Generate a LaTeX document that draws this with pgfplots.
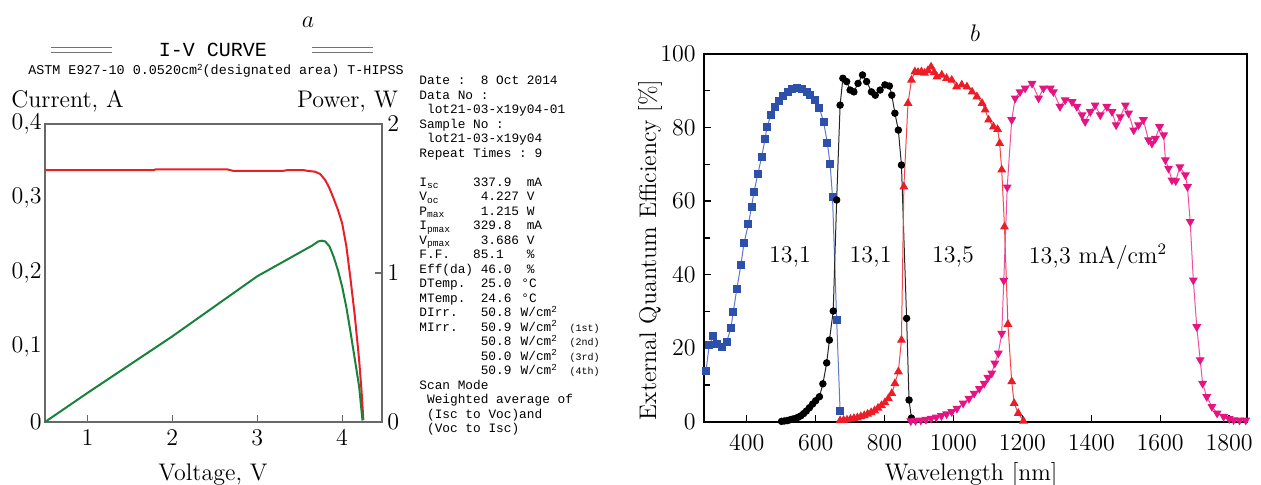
\documentclass[border=0pt]{standalone}
\usepackage{fontspec}
\newfontfamily\monof{Liberation Mono}
\usepackage{pgfplots}
\pgfplotsset{compat=1.18}
\definecolor{cblue}{RGB}{45,80,170}
\definecolor{cbluel}{RGB}{95,120,200}
\definecolor{cred}{RGB}{235,30,40}
\definecolor{credl}{RGB}{240,70,75}
\definecolor{cmag}{RGB}{230,20,130}
\definecolor{cmagl}{RGB}{238,80,160}
\definecolor{cgreen}{RGB}{25,130,60}
\definecolor{cframe}{RGB}{105,105,105}
\newcommand{\sub}[1]{\raisebox{-0.35ex}{\fontsize{4.8}{5}\selectfont #1}}
\newcommand{\sq}{\raisebox{0.65ex}{\fontsize{4.6}{5}\selectfont 2}}
\newcommand{\sm}[1]{{\fontsize{5}{5}\selectfont #1}}
\newcommand{\ml}[3]{\node[anchor=base west,inner sep=0pt,font=\monof\fontsize{6.4}{7.25}\selectfont] at ({209.5pt+#1*3.835pt},{199.65pt-#2*7.25pt}) {#3};}
\begin{document}
\fontsize{12}{14}\selectfont
\begin{tikzpicture}
\useasboundingbox (0,0) rectangle (630.5pt,242pt);
% ---------------- panel a ----------------
\begin{axis}[scale only axis, anchor=south west, at={(22.5pt,31pt)},
  width=168.5pt, height=149pt,
  xmin=0.5, xmax=4.47, ymin=0, ymax=0.4,
  axis line style={cframe, line width=0.6pt},
  xtick={1,2,3,4}, ytick={0,0.1,0.2,0.3,0.4},
  xtick pos=bottom, tick align=inside, major tick length=3.5pt,
  tick style={cframe, line width=0.6pt},
  ytick style={draw=none},
  /pgf/number format/use comma,
  yticklabel style={inner sep=1.5pt},
  clip=false]
\addplot[cred, line width=1pt] coordinates {
(0.5,0.338) (1.0,0.338) (1.5,0.338) (1.78,0.338) (1.8,0.339) (2.2,0.339)
(2.65,0.339) (2.72,0.337) (3.0,0.337) (3.3,0.337) (3.35,0.338) (3.55,0.338)
(3.6,0.337) (3.68,0.336) (3.74,0.333) (3.8,0.325) (3.85,0.314) (3.9,0.300)
(3.95,0.285) (4.0,0.267) (4.05,0.236) (4.1,0.191) (4.15,0.142) (4.2,0.084)
(4.23,0.04) (4.25,0.003)};
\end{axis}
\begin{axis}[scale only axis, anchor=south west, at={(22.5pt,31pt)},
  width=168.5pt, height=149pt,
  xmin=0.5, xmax=4.47, ymin=0, ymax=2,
  axis x line=none, axis y line*=right,
  axis line style={cframe, line width=0.6pt},
  ytick={0,1,2}, tick align=inside, major tick length=3.3pt,
  tick style={cframe, line width=0.6pt},
  yticklabel style={inner sep=1.5pt, xshift=1pt},
  clip=false]
\addplot[cgreen, line width=1pt] coordinates {
(0.5,0) (1.0,0.195) (2.0,0.575) (3.0,0.978) (3.49,1.134) (3.65,1.185)
(3.72,1.212) (3.76,1.217) (3.80,1.212) (3.85,1.18) (3.90,1.11) (3.95,1.02)
(4.0,0.91) (4.05,0.77) (4.1,0.60) (4.15,0.42) (4.2,0.24) (4.24,0.01)};
\end{axis}
\node at (154pt,231pt) {$a$};
\draw[black!55, line width=0.4pt] (25.35pt,218.15pt) -- (55.85pt,218.15pt) (25.35pt,215.85pt) -- (55.85pt,215.85pt);
\draw[black!55, line width=0.4pt] (155.85pt,218.15pt) -- (186.65pt,218.15pt) (155.85pt,215.85pt) -- (186.65pt,215.85pt);
\node[font=\monof\fontsize{10}{11}\selectfont, inner sep=0pt] at (106.5pt,217pt) {I-V CURVE};
\node[font=\monof\fontsize{6.7}{7}\selectfont, inner sep=0pt] at (108pt,206.5pt) {ASTM E927-10 0.0520cm\sq(designated area) T-HIPSS};
\node[anchor=base, inner sep=0pt] at (33.75pt,188.2pt) {Current, A};
\node[anchor=base, inner sep=0pt] at (173.75pt,188.2pt) {Power, W};
\node[anchor=base] at (106.5pt,2pt) {Voltage, V};
% info block
\ml{0}{0}{Date~:~~8~Oct~2014}
\ml{0}{1}{Data~No~:}
\ml{1}{2}{lot21-03-x19y04-01}
\ml{0}{3}{Sample~No~:}
\ml{1}{4}{lot21-03-x19y04}
\ml{0}{5}{Repeat~Times~:~9}
\ml{0}{7}{I\sub{sc}}  \ml{7}{7}{337.9}  \ml{14}{7}{mA}
\ml{0}{8}{V\sub{oc}}  \ml{8}{8}{4.227}  \ml{14}{8}{V}
\ml{0}{9}{P\sub{max}} \ml{8}{9}{1.215}  \ml{14}{9}{W}
\ml{0}{10}{I\sub{pmax}} \ml{7}{10}{329.8} \ml{14}{10}{mA}
\ml{0}{11}{V\sub{pmax}} \ml{8}{11}{3.686} \ml{14}{11}{V}
\ml{0}{12}{F.F.}     \ml{7}{12}{85.1}  \ml{14}{12}{\%}
\ml{0}{13}{Eff(da)}  \ml{8}{13}{46.0}  \ml{14}{13}{\%}
\ml{0}{14}{DTemp.}   \ml{8}{14}{25.0}  \ml{13.3}{14}{°C}
\ml{0}{15}{MTemp.}   \ml{8}{15}{24.6}  \ml{13.3}{15}{°C}
\ml{0}{16}{DIrr.}    \ml{8}{16}{50.8}  \ml{13.2}{16}{W/cm\sq}
\ml{0}{17}{MIrr.}    \ml{8}{17}{50.9}  \ml{13.2}{17}{W/cm\sq} \ml{19.6}{17}{\sm{(1st)}}
\ml{8}{18}{50.8}  \ml{13.2}{18}{W/cm\sq} \ml{19.6}{18}{\sm{(2nd)}}
\ml{8}{19}{50.0}  \ml{13.2}{19}{W/cm\sq} \ml{19.6}{19}{\sm{(3rd)}}
\ml{8}{20}{50.9}  \ml{13.2}{20}{W/cm\sq} \ml{19.6}{20}{\sm{(4th)}}
\ml{0}{21}{Scan~Mode}
\ml{1}{22}{Weighted~average~of}
\ml{1}{23}{(Isc~to~Voc)and}
\ml{1}{24}{(Voc~to~Isc)}
% ---------------- panel b ----------------
\begin{axis}[scale only axis, anchor=south west, at={(352pt,31.15pt)},
  width=271.35pt, height=183.85pt,
  xmin=276, xmax=1851, ymin=0, ymax=100,
  xtick={400,600,...,1800}, ytick={0,20,...,100}, minor ytick={10,30,50,70,90},
  xtick pos=bottom, ytick pos=left, tick align=inside,
  major tick length=3.5pt, minor tick length=3pt,
  axis line style={line width=0.9pt}, tick style={black, line width=0.7pt},
  xticklabel style={yshift=-2.5pt},
  /pgf/number format/1000 sep={},
  clip=false]
\addplot[cbluel, line width=0.5pt, mark=square*, mark size=1.75pt, mark options={fill=cblue, draw=cblue}] coordinates {
(282,13.9) (291,20.8) (303,23.3) (314,21.1) (327,20.4) (342,21.8) (354,25.4)
(361,29.9) (371,36.0) (383,42.6) (392,48.5) (405,53.8) (414,58.5) (421,62.5)
(432,67.3) (443,71.9) (453,76.8) (459,80.2) (470,83.4) (483,85.7) (494,87.2)
(506,88.6) (519,89.7) (532,90.4) (547,90.8) (559,90.4) (574,89.7) (585,88.8)
(599,87.5) (611,85.2) (623,81.6) (634,75.7) (642,70.1) (649,61.0) (661,27.6)
(671,2.8)};
\addplot[black!85, line width=0.5pt, mark=*, mark size=1.6pt, mark options={fill=black, draw=black}] coordinates {
(501,0.1) (509,0.2) (517,0.3) (525,0.5) (533,0.7) (541,0.9) (549,1.2) (557,1.6)
(565,2.2) (573,2.9) (582,3.8) (591,4.8) (600,5.7) (611,6.8) (621,10.3) (632,16.0)
(640,22.2) (651,30.1) (661,60.3) (671,86.1) (679,93.4) (690,92.5) (700,90.2)
(711,89.7) (723,92.0) (736,94.3) (748,92.5) (762,89.7) (773,88.8) (787,90.2)
(801,91.6) (814,91.3) (821,88.8) (830,83.9) (840,79.3) (849,69.8) (864,28.1)
(871,5.9) (878,1.0)};
\addplot[credl, line width=0.5pt, mark=triangle*, mark size=2.1pt, mark options={fill=cred, draw=cred}] coordinates {
(671,0.3) (681,0.4) (691,0.5) (701,0.7) (711,0.9) (721,1.1) (731,1.4) (741,1.7)
(751,2.1) (761,2.5) (771,3.0) (781,3.7) (791,4.4) (801,5.2) (811,6.3) (821,7.7)
(830,10.4) (840,13.6) (849,22.2) (856,63.9) (868,86.6) (878,92.9) (888,95.2)
(897,95.0) (907,95.2) (916,94.8) (926,95.5) (935,96.5) (944,95.0) (952,93.8)
(966,94.3) (980,93.4) (995,92.9) (1009,91.1) (1024,91.6) (1039,91.1) (1054,89.7)
(1068,88.4) (1083,86.6) (1092,84.8) (1102,82.1) (1116,80.2) (1128,79.5)
(1134,75.7) (1140,68.5) (1148,53.0) (1158,26.5) (1169,10.9) (1176,5.0)
(1188,2.3) (1203,0.2)};
\addplot[cmagl, line width=0.5pt, mark=triangle*, mark size=2.1pt, mark options={fill=cmag, draw=cmag, rotate=180}] coordinates {
(876,0.2) (890,0.3) (905,0.4) (920,0.6) (935,0.9) (950,1.2) (965,1.6) (980,2.1)
(995,2.7) (1010,3.6) (1028,5.0) (1045,6.3) (1060,7.7) (1075,9.0) (1089,10.4)
(1100,12.0) (1111,13.2) (1120,15.9) (1130,18.6) (1140,24.0) (1146,38.4)
(1156,63.8) (1169,82.1) (1179,88.0) (1193,89.7) (1208,90.7) (1228,92.0)
(1247,88.0) (1261,90.7) (1281,90.7) (1290,89.7) (1309,85.7) (1324,87.5)
(1344,87.0) (1358,85.7) (1373,83.4) (1382,81.6) (1397,84.3) (1411,86.1)
(1426,83.4) (1445,85.7) (1460,84.3) (1472,80.7) (1484,82.9) (1499,86.1)
(1508,83.9) (1523,79.3) (1537,80.7) (1551,82.1) (1566,76.6) (1576,75.7)
(1586,77.0) (1598,80.2) (1610,78.0) (1615,71.2) (1624,68.9) (1634,65.7)
(1645,65.5) (1657,69.3) (1673,67.1) (1679,63.9) (1687,54.4) (1696,38.5)
(1706,25.8) (1716,16.8) (1723,10.4) (1735,6.8) (1750,4.1) (1765,2.3)
(1784,1.4) (1800,0.8) (1813,0.5) (1830,0.4) (1848,0.4)};
\end{axis}
\node at (487.5pt,225.5pt) {$b$};
\node[rotate=90] at (325pt,117pt) {External Quantum Efficiency [\%]};
\node[anchor=base] at (485.5pt,2pt) {Wavelength [nm]};
\node at (395pt,113.5pt) {13,1};
\node at (435.3pt,113.5pt) {13,1};
\node at (476.5pt,113.5pt) {13,5};
\node at (549pt,113.5pt) {13,3 mA/cm$^2$};
\end{tikzpicture}
\end{document}
